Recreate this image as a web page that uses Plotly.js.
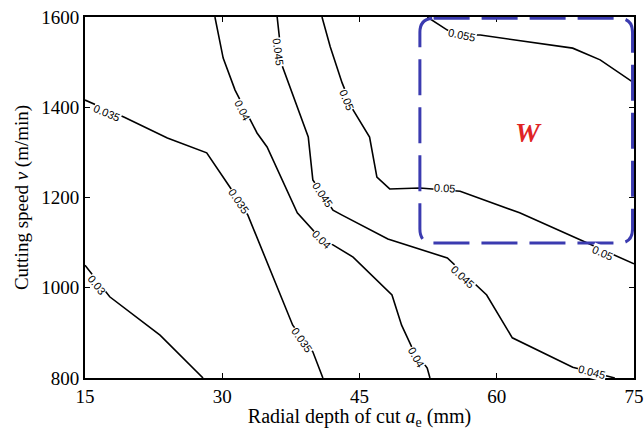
<!DOCTYPE html>
<html>
<head>
<meta charset="utf-8">
<script src="https://cdn.plot.ly/plotly-3.0.1.min.js"></script>
<style>html,body{margin:0;padding:0;background:#fff;}#chart{width:644px;height:430px;}</style>
</head>
<body>
<div id="chart"></div>
<script>
// Contour lines of the response: ae (mm) and v (m/min)
const c030_ae = [15, 17.7, 23.2, 27.9];
const c030_v  = [1050, 980, 895, 800];
const c035_ae = [15, 19.3, 24.0, 28.3, 30.9, 32.8, 37.7, 39.9, 41.0];
const c035_v  = [1416, 1378, 1332, 1299, 1221, 1161, 917, 858, 800];
const c040_ae = [29.2, 30.1, 31.4, 33.8, 34.9, 38.2, 40.8, 42.1, 44.3, 48.55, 49.6, 50.7, 52.4, 52.7];
const c040_v  = [1600, 1509, 1438, 1343, 1312, 1166, 1108, 1095, 1068, 984, 917, 869, 822, 800];
const c045_ae = [36.0, 36.6, 39.4, 39.9, 41.0, 42.1, 43.1, 48.1, 54.6, 58.9, 61.7, 68.3, 72.9];
const c045_v  = [1600, 1489, 1334, 1239, 1206, 1172, 1161, 1108, 1066, 984, 889, 824, 800];
const c050_ae = [40.9, 41.8, 43.1, 44.3, 46.1, 46.9, 48.3, 51.6, 56.0, 62.5, 69.9, 73.5, 75];
const c050_v  = [1600, 1534, 1454, 1394, 1334, 1245, 1219, 1221, 1214, 1166, 1099, 1066, 1053];
const c055_ae = [52.4, 54.6, 56.2, 58.2, 68.3, 71.3, 75];
const c055_v  = [1600, 1571, 1560, 1560, 1531, 1505, 1454];

// Contour labels
const labelText  = ["0.03", "0.035", "0.035", "0.035", "0.04", "0.04", "0.04", "0.045", "0.045", "0.045", "0.045", "0.05", "0.05", "0.05", "0.055"];
const labelAe    = [16.3, 17.4, 31.8, 38.7, 32.2, 40.8, 51.2, 36.1, 41.0, 56.3, 70.4, 43.6, 54.3, 71.6, 56.2];
const labelV     = [1006, 1387, 1192, 884, 1394, 1108, 847, 1522, 1206, 1024, 813, 1416, 1221, 1077, 1560];
const labelAngle = [52, 23, 56, 55, 63, 45, 60, 83, 56, 43, 15, 68, 3, 24, 12];

// Region W
const regionAe = [51.6, 74.84];
const regionV  = [1099, 1597];
const regionLabel = "W";
const xTicks = [15, 30, 45, 60, 75];
const yTicks = [800, 1000, 1200, 1400, 1600];

const SERIF = '"Liberation Serif"';
const SANS = '"Liberation Sans"';

const lines = [[c030_ae, c030_v], [c035_ae, c035_v], [c040_ae, c040_v], [c045_ae, c045_v], [c050_ae, c050_v], [c055_ae, c055_v]];
const traces = lines.map(l => ({
  x: l[0], y: l[1], type: 'scatter', mode: 'lines',
  line: {color: '#000', width: 1.6}, hoverinfo: 'skip', showlegend: false
}));

const annotations = labelText.map((t, i) => ({
  x: labelAe[i], y: labelV[i], xref: 'x', yref: 'y', text: t, showarrow: false,
  textangle: labelAngle[i], bgcolor: '#fff', borderpad: 0,
  font: {family: SANS, size: 11, color: '#000'}
}));
annotations.push({
  x: (regionAe[0] + regionAe[1]) / 2 + 0.3, y: 1343, xref: 'x', yref: 'y',
  text: '<b><i>' + regionLabel + '</i></b>', showarrow: false,
  font: {family: SERIF, size: 28, color: '#e02424'}
});

// rounded rectangle path
const rx = 1.5, ry = 31;
const [x0, x1] = regionAe, [y0, y1] = regionV;
const path = `M ${x0+rx},${y1} L ${x1-rx},${y1} Q ${x1},${y1} ${x1},${y1-ry} L ${x1},${y0+ry} Q ${x1},${y0} ${x1-rx},${y0} ` +
             `L ${x0+rx},${y0} Q ${x0},${y0} ${x0},${y0+ry} L ${x0},${y1-ry} Q ${x0},${y1} ${x0+rx},${y1} Z`;

const axisFont = {family: SERIF, size: 19, color: '#000'};
const layout = {
  width: 644, height: 430,
  margin: {l: 85, r: 10, t: 17, b: 52},
  paper_bgcolor: '#fff', plot_bgcolor: '#fff',
  showlegend: false,
  font: {family: SERIF},
  xaxis: {
    range: [15, 75], tickvals: xTicks, ticktext: xTicks.map(String),
    ticks: 'inside', ticklen: 5, tickwidth: 1.2, tickcolor: '#000',
    showline: true, linecolor: '#000', linewidth: 2, mirror: 'ticks',
    showgrid: false, zeroline: false, tickfont: axisFont,
    title: {text: 'Radial depth of cut <i>a</i><sub>e</sub> (mm)', font: {family: SERIF, size: 20, color: '#000'}, standoff: 7}
  },
  yaxis: {
    range: [800, 1600], tickvals: yTicks, ticktext: yTicks.map(String),
    ticks: 'inside', ticklen: 5, tickwidth: 1.2, tickcolor: '#000',
    showline: true, linecolor: '#000', linewidth: 2, mirror: 'ticks',
    showgrid: false, zeroline: false, tickfont: axisFont,
    title: {text: 'Cutting speed <i>v</i> (m/min)', font: axisFont, standoff: 8}
  },
  annotations: annotations,
  shapes: [{
    type: 'path', xref: 'x', yref: 'y', path: path, layer: 'above',
    line: {color: '#3b3bb0', width: 3, dash: '36px,12px'}
  }]
};

Plotly.newPlot('chart', traces, layout, {displayModeBar: false, staticPlot: true});
</script>
</body>
</html>
